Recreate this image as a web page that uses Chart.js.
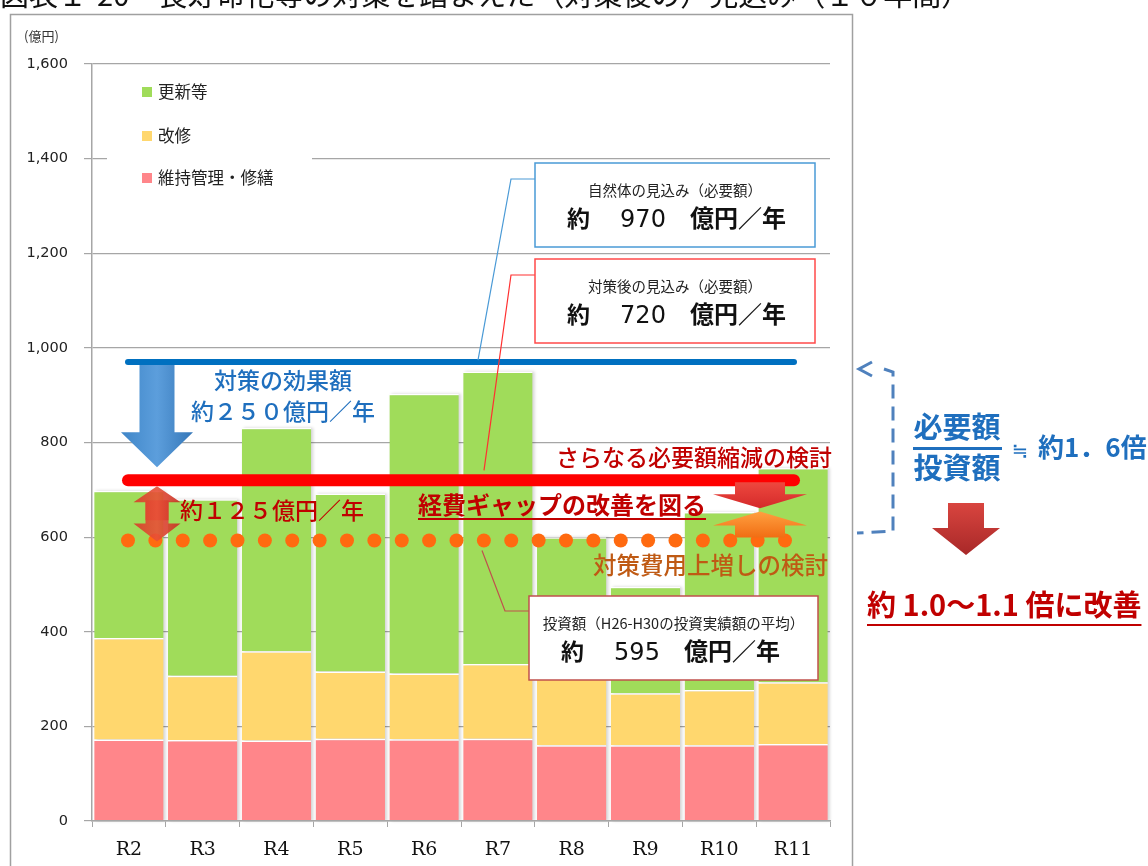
<!DOCTYPE html>
<html lang="ja">
<head>
<meta charset="utf-8">
<title>長寿命化等の対策を踏まえた見込み</title>
<script src="https://cdn.jsdelivr.net/npm/chart.js@4.4.1/dist/chart.umd.min.js"></script>
<style>
    html, body { margin: 0; padding: 0; background: #fff; overflow: hidden; }
    canvas { display: block; }
</style>
</head>
<body>
<canvas id="chart" width="1148" height="866"></canvas>
<script>

// 年度別の見込み額（億円）
const years = ["R2", "R3", "R4", "R5", "R6", "R7", "R8", "R9", "R10", "R11"];
const upkeep = [172, 171, 170, 174, 173, 174, 160, 160, 160, 163];   // 維持管理・修繕
const repair = [215, 136, 189, 142, 139, 158, 145, 110, 117, 130];   // 改修
const renewal = [311, 373, 472, 376, 591, 618, 295, 225, 376, 453];  // 更新等
const yTicks = [0, 200, 400, 600, 800, 1000, 1200, 1400, 1600];

// 比較する水準（億円／年）
const naturalNeed = 970;   // 自然体の見込み
const plannedNeed = 720;   // 対策後の見込み
const investAvg = 595;     // H26-H30 の投資実績額の平均

const JP = '"Noto Sans CJK JP", "Noto Sans", sans-serif';

const zen = n =>
    String(n).replace(/[0-9]/g, d => String.fromCharCode(d.charCodeAt(0) + 0xFEE0));


function poly(ctx, pts, fill) {
    ctx.beginPath();
    ctx.moveTo(pts[0][0], pts[0][1]);
    for (let i = 1; i < pts.length; i++) ctx.lineTo(pts[i][0], pts[i][1]);
    ctx.closePath();
    ctx.fillStyle = fill;
    ctx.fill();
}

// 縦向きの矢印（yTip が yStart より下なら下向き）
function arrow(ctx, cx, yStart, yNeck, yTip, shaftW, headW, fill) {
    poly(ctx, [
        [cx - shaftW / 2, yStart], [cx + shaftW / 2, yStart],
        [cx + shaftW / 2, yNeck], [cx + headW / 2, yNeck],
        [cx, yTip],
        [cx - headW / 2, yNeck], [cx - shaftW / 2, yNeck]
    ], fill);
}

function text(ctx, str, x, y, font, color, align) {
    ctx.font = font;
    ctx.fillStyle = color;
    ctx.textAlign = align || "left";
    ctx.textBaseline = "middle";
    ctx.fillText(str, x, y);
    return ctx.measureText(str).width;
}

function callout(ctx, box, border, caption, amount) {
    ctx.fillStyle = "#fff";
    ctx.fillRect(box.x, box.y, box.w, box.h);
    ctx.strokeStyle = border;
    ctx.lineWidth = 1.5;
    ctx.strokeRect(box.x, box.y, box.w, box.h);

    text(ctx, caption, box.x + box.w / 2, box.y + 27, `14.5px ${JP}`, "#222", "center");
    const ly = box.y + 55;
    text(ctx, "約", box.x + 32, ly, `bold 23px ${JP}`, "#111");
    text(ctx, String(amount), box.x + 108, ly + 3, '24px "DejaVu Sans"', "#111", "center");
    text(ctx, "億円／年", box.x + 155, ly, `bold 24px ${JP}`, "#111");
}


const frame = {
    id: "frame",
    beforeDraw(chart) {
        const ctx = chart.ctx;
        ctx.save();
        ctx.fillStyle = "#fff";
        ctx.fillRect(0, 0, chart.width, chart.height);

        ctx.font = `29px ${JP}`;
        ctx.fillStyle = "#111";
        ctx.textAlign = "left";
        ctx.textBaseline = "alphabetic";
        ctx.fillText("図表１-20　長寿命化等の対策を踏まえた（対策後の）見込み（１０年間）", 0, 6);

        ctx.strokeStyle = "#a0a0a0";
        ctx.lineWidth = 1.5;
        ctx.strokeRect(10.5, 14.5, 842, 900);

        text(ctx, "(億円)", 24, 36, `13px ${JP}`, "#333");
        ctx.restore();
    },

    // 凡例と棒の影（グリッドの上、棒の下）
    beforeDatasetsDraw(chart) {
        const ctx = chart.ctx;
        const ys = chart.scales.y;
        ctx.save();

        ctx.fillStyle = "#fff";
        ctx.fillRect(107, 70, 205, 135);
        const rows = [92, 136, 178];
        [2, 1, 0].forEach((di, i) => {
            const ds = chart.data.datasets[di];
            ctx.fillStyle = ds.backgroundColor;
            ctx.fillRect(142, rows[i] - 5, 10, 10);
            text(ctx, ds.label, 158, rows[i], `16.5px ${JP}`, "#222");
        });

        const top = chart.getDatasetMeta(2).data;
        ctx.filter = "blur(1.5px)";
        ctx.fillStyle = "rgba(0,0,0,0.16)";
        top.forEach(bar => {
            ctx.fillRect(bar.x - bar.width / 2 + 2, bar.y, bar.width, ys.getPixelForValue(0) - bar.y);
        });
        ctx.restore();
    }
};


const overlay = {
    id: "overlay",
    afterDraw(chart) {
        const { ctx, chartArea: area, scales: { y } } = chart;
        const yNatural = y.getPixelForValue(naturalNeed);
        const yPlanned = y.getPixelForValue(plannedNeed);
        const yInvest = y.getPixelForValue(investAvg);
        const lineL = area.left + 36;
        const lineR = area.right - 36;
        ctx.save();

        // 投資額の点線
        ctx.fillStyle = "#ff6a10";
        for (let i = 0; i < 25; i++) {
            ctx.beginPath();
            ctx.arc(lineL + i * 27.375, yInvest + 1, 7, 0, Math.PI * 2);
            ctx.fill();
        }

        // 対策後の必要額（赤）と自然体の必要額（青）
        ctx.lineCap = "round";
        ctx.strokeStyle = "#ff0000";
        ctx.lineWidth = 12;
        ctx.beginPath();
        ctx.moveTo(lineL, yPlanned);
        ctx.lineTo(lineR, yPlanned);
        ctx.stroke();

        ctx.strokeStyle = "#0070c0";
        ctx.lineWidth = 6;
        ctx.beginPath();
        ctx.moveTo(lineL, yNatural);
        ctx.lineTo(lineR, yNatural);
        ctx.stroke();
        ctx.lineCap = "butt";

        // 効果額の青矢印
        const cx = area.left + 65;
        let g = ctx.createLinearGradient(cx - 36, 0, cx + 36, 0);
        g.addColorStop(0, "#3f86c8");
        g.addColorStop(0.5, "#5c9edc");
        g.addColorStop(1, "#3577b8");
        arrow(ctx, cx, yNatural + 3, yPlanned - 48, yPlanned - 13, 35, 72, g);

        // 差額の赤い両矢印
        g = ctx.createLinearGradient(cx - 24, 0, cx + 24, 0);
        g.addColorStop(0, "rgba(214,60,40,0.9)");
        g.addColorStop(0.5, "rgba(232,80,55,0.9)");
        g.addColorStop(1, "rgba(196,45,35,0.9)");
        arrow(ctx, cx, yPlanned + 40, yPlanned + 22, yPlanned + 6, 23, 47, g);
        arrow(ctx, cx, yPlanned + 20, yInvest - 16, yInvest + 2, 23, 47, g);

        // 右端の寄せ合う矢印
        const ax = area.right - 70;
        g = ctx.createLinearGradient(0, yPlanned, 0, yPlanned + 28);
        g.addColorStop(0, "#f04a40");
        g.addColorStop(1, "#d42a2a");
        arrow(ctx, ax, yPlanned + 2, yPlanned + 14, yPlanned + 28, 50, 94, g);
        g = ctx.createLinearGradient(0, yInvest - 28, 0, yInvest);
        g.addColorStop(0, "#ffa040");
        g.addColorStop(1, "#f06a10");
        arrow(ctx, ax, yInvest - 2, yInvest - 14, yInvest - 28, 50, 94, g);

        // 文字
        const blue = "#1f6fbe";
        const red = "#c00000";
        text(ctx, "対策の効果額", 283, 380, `500 23px ${JP}`, blue, "center");
        text(ctx, "約" + zen(naturalNeed - plannedNeed) + "億円／年", 283, 411, `500 23px ${JP}`, blue, "center");
        text(ctx, "約" + zen(plannedNeed - investAvg) + "億円／年", 180, 510, `500 23px ${JP}`, red);
        text(ctx, "さらなる必要額縮減の検討", 556, 457, `500 23px ${JP}`, red);
        text(ctx, "対策費用上増しの検討", 593, 565, `500 23.5px ${JP}`, "#bf5a14");

        const w = text(ctx, "経費ギャップの改善を図る", 418, 505, `bold 24px ${JP}`, red);
        ctx.fillStyle = red;
        ctx.fillRect(418, 518, w, 2);

        // 引出線と吹出し
        ctx.lineWidth = 1.2;
        ctx.strokeStyle = "#4a9ad6";
        ctx.beginPath();
        ctx.moveTo(535, 179);
        ctx.lineTo(511, 179);
        ctx.lineTo(478, yNatural - 2);
        ctx.stroke();

        ctx.strokeStyle = "#ff3030";
        ctx.beginPath();
        ctx.moveTo(535, 275);
        ctx.lineTo(511, 275);
        ctx.lineTo(484, yPlanned - 10);
        ctx.stroke();

        ctx.strokeStyle = "#c0504d";
        ctx.beginPath();
        ctx.moveTo(482, yInvest + 11);
        ctx.lineTo(505, 611);
        ctx.lineTo(529, 611);
        ctx.stroke();

        callout(ctx, { x: 535, y: 163, w: 280, h: 84 }, "#4a9ad6", "自然体の見込み（必要額）", naturalNeed);
        callout(ctx, { x: 535, y: 259, w: 280, h: 84 }, "#ff4a4a", "対策後の見込み（必要額）", plannedNeed);
        ctx.save();
        ctx.translate(-6, 337);
        callout(ctx, { x: 535, y: 259, w: 289, h: 84 }, "#c0504d", "投資額（H26-H30の投資実績額の平均）", investAvg);
        ctx.restore();

        // 右側の倍率
        ctx.strokeStyle = "#4f81bd";
        ctx.lineWidth = 3;
        ctx.beginPath();
        ctx.moveTo(872, 362);
        ctx.lineTo(859, 369);
        ctx.lineTo(872, 376);
        ctx.stroke();
        ctx.setLineDash([14, 8]);
        ctx.beginPath();
        ctx.moveTo(884, 369);
        ctx.lineTo(893, 372);
        ctx.lineTo(893, 531);
        ctx.lineTo(857, 533);
        ctx.stroke();
        ctx.setLineDash([]);

        text(ctx, "必要額", 957, 427, `bold 29px ${JP}`, blue, "center");
        ctx.fillStyle = blue;
        ctx.fillRect(913, 447, 89, 3);
        text(ctx, "投資額", 957, 468, `bold 29px ${JP}`, blue, "center");
        text(ctx, "≒", 1020, 449, `bold 20px ${JP}`, blue, "center");
        text(ctx, "約" + (naturalNeed / investAvg).toFixed(1).replace(".", "．") + "倍", 1038, 447, `bold 26px ${JP}`, blue);

        g = ctx.createLinearGradient(0, 503, 0, 555);
        g.addColorStop(0, "#d9453f");
        g.addColorStop(1, "#a82828");
        arrow(ctx, 966, 503, 528, 555, 36, 68, g);

        const w2 = text(ctx, "約 1.0～1.1 倍に改善", 867, 605, `bold 29px ${JP}`, red);
        ctx.fillStyle = red;
        ctx.fillRect(867, 624, w2, 2);

        ctx.restore();
    }
};


new Chart(
    document.getElementById("chart"),
    {
        type: "bar",
        data: {
            labels: years,
            datasets: [
                { label: "維持管理・修繕", data: upkeep, backgroundColor: "#ff868a" },
                { label: "改修", data: repair, backgroundColor: "#ffd76e" },
                { label: "更新等", data: renewal, backgroundColor: "#a0dc5a" }
            ]
        },
        options: {
            responsive: false,
            animation: false,
            layout: { padding: { top: 64, right: 318, bottom: 0, left: 0 } },
            datasets: {
                bar: {
                    barPercentage: 0.94,
                    categoryPercentage: 1,
                    borderColor: "#ffffff",
                    borderWidth: { top: 1.5, right: 0, bottom: 0, left: 0 }
                }
            },
            plugins: {
                legend: { display: false },
                tooltip: { enabled: false }
            },
            scales: {
                x: {
                    stacked: true,
                    grid: { offset: true, drawOnChartArea: false, tickLength: 6, tickColor: "#a6a6a6" },
                    border: { color: "#a6a6a6", width: 1.5, z: 1 },
                    ticks: { font: { family: '"DejaVu Serif"', size: 19 }, color: "#111", padding: 12 },
                    afterFit: s => { s.height = 45; }
                },
                y: {
                    stacked: true,
                    min: 0,
                    max: 1600,
                    afterBuildTicks: s => { s.ticks = yTicks.map(v => ({ value: v })); },
                    grid: { color: "#a6a6a6", lineWidth: 1.2, tickLength: 8 },
                    border: { color: "#a6a6a6", width: 1.5 },
                    ticks: {
                        font: { family: '"DejaVu Sans"', size: 14.5 },
                        color: "#222",
                        padding: 16,
                        callback: v => v.toLocaleString("en-US")
                    },
                    afterFit: s => { s.width = 92; }
                }
            }
        },
        plugins: [frame, overlay]
    }
);

</script>
</body>
</html>
